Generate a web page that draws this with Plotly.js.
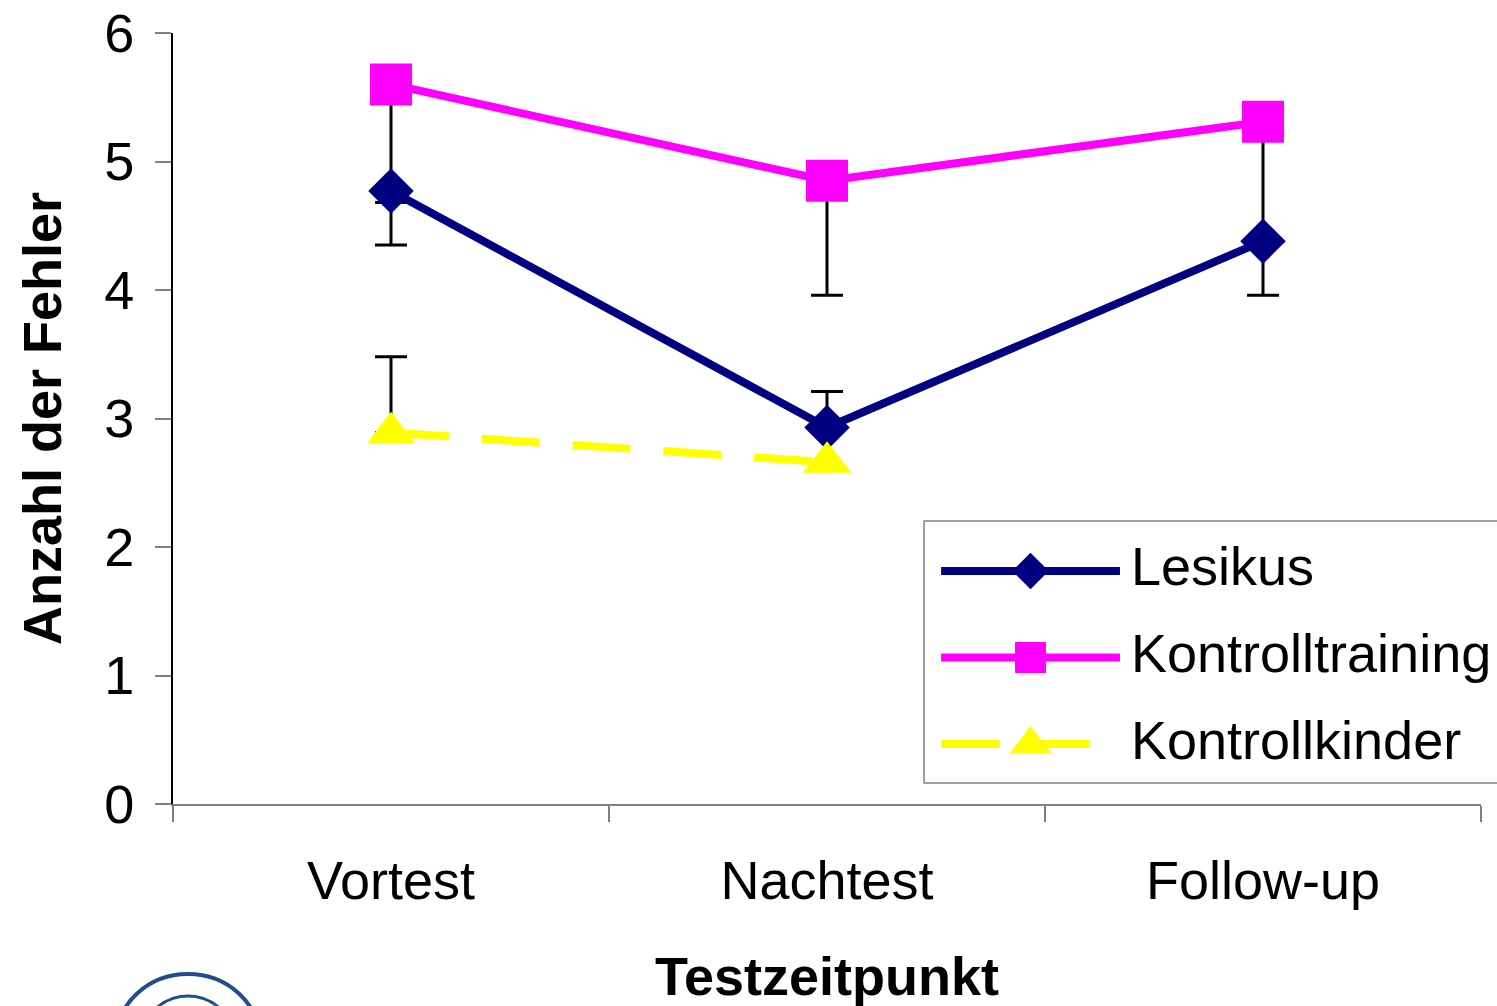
<!DOCTYPE html>
<html><head><meta charset="utf-8">
<script src="https://cdn.plot.ly/plotly-3.0.1.min.js"></script>
<style>html,body{margin:0;padding:0;background:#fff;} #chart{width:1497px;height:1006px;}</style>
</head><body><div id="chart"></div>
<script>
// ---- data ----
const categories = ['Vortest', 'Nachtest', 'Follow-up'];
const seriesNames = ['Lesikus', 'Kontrolltraining', 'Kontrollkinder'];
const lesikus = [4.77, 2.93, 4.38];
const lesikusErrPlus = [0, 0.28, 0];
const lesikusErrMinus = [0.42, 0, 0.42];
const kontrolltraining = [5.60, 4.85, 5.31];
const kontrolltrainingErrPlus = [0, 0, 0];
const kontrolltrainingErrMinus = [0.92, 0.89, 0.90];
const kontrollkinderCats = ['Vortest', 'Nachtest'];
const kontrollkinder = [2.89, 2.66];
const kontrollkinderErrPlus = [0.59, NaN];
const kontrollkinderErrMinus = [0, NaN];
const yTicks = [0, 1, 2, 3, 4, 5, 6];
const xTitle = 'Testzeitpunkt';
const yTitle = 'Anzahl der Fehler';

// ---- styles ----
const FONT = 'Liberation Sans, Arial, sans-serif';
const colors = {Lesikus: '#000080', Kontrolltraining: '#FF00FF', Kontrollkinder: '#FFFF00'};
const symbols = {Lesikus: 'diamond', Kontrolltraining: 'square', Kontrollkinder: 'triangle-up'};
const sizes = {Lesikus: 35, Kontrolltraining: 42, Kontrollkinder: 42};
const legendSizes = {Lesikus: 28, Kontrolltraining: 31, Kontrollkinder: 36};
const dashes = {Lesikus: 'solid', Kontrolltraining: 'solid', Kontrollkinder: '58px,33px'};

function err(plus, minus) {
  return {type: 'data', symmetric: false, array: plus, arrayminus: minus,
          color: '#000000', thickness: 3, width: 16, visible: true};
}

const seriesData = {
  Lesikus: {x: categories, y: lesikus, e: err(lesikusErrPlus, lesikusErrMinus)},
  Kontrolltraining: {x: categories, y: kontrolltraining, e: err(kontrolltrainingErrPlus, kontrolltrainingErrMinus)},
  Kontrollkinder: {x: kontrollkinderCats, y: kontrollkinder, e: err(kontrollkinderErrPlus, kontrollkinderErrMinus)}
};

// drawing order: Kontrolltraining, Lesikus, Kontrollkinder
const drawOrder = ['Kontrolltraining', 'Lesikus', 'Kontrollkinder'];
const traces = drawOrder.map(name => ({
  type: 'scatter', mode: 'lines+markers', name: name,
  x: seriesData[name].x, y: seriesData[name].y,
  xaxis: 'x', yaxis: 'y',
  line: {color: colors[name], width: 8, dash: dashes[name]},
  marker: {symbol: symbols[name], size: sizes[name], color: colors[name], opacity: 1, line: {width: 0}},
  error_y: seriesData[name].e,
  showlegend: false, cliponaxis: false
}));

// custom legend samples (drawn on a helper subplot)
const legendTextY = [0.3087, 0.1958, 0.0830];
const annotations = [];
seriesNames.forEach((name, i) => {
  const row = seriesNames.length - 1 - i;
  traces.push({
    type: 'scatter', mode: 'lines', x: [0, 1], y: [row, row],
    xaxis: 'x2', yaxis: 'y2', showlegend: false, cliponaxis: false, hoverinfo: 'skip',
    line: {color: colors[name], width: 8, dash: dashes[name]}
  });
  traces.push({
    type: 'scatter', mode: 'markers', x: [0.5], y: [row],
    xaxis: 'x2', yaxis: 'y2', showlegend: false, cliponaxis: false, hoverinfo: 'skip',
    marker: {symbol: symbols[name], size: legendSizes[name], color: colors[name], opacity: 1, line: {width: 0}}
  });
  annotations.push({
    xref: 'paper', yref: 'paper', x: 0.7310, y: legendTextY[i], xanchor: 'left', yanchor: 'middle',
    text: name, showarrow: false,
    font: {family: FONT, size: 54, color: '#000'}
  });
});

const layout = {
  width: 1497, height: 1006,
  margin: {l: 173, r: 16, t: 33, b: 202},
  paper_bgcolor: '#fff', plot_bgcolor: 'rgba(0,0,0,0)',
  showlegend: false,
  font: {family: FONT, color: '#000', size: 54},
  xaxis: {
    type: 'category', categoryorder: 'array', categoryarray: categories,
    range: [-0.5, 2.5], tickson: 'boundaries',
    ticks: 'outside', ticklen: 16, tickwidth: 2, tickcolor: '#808080',
    showline: true, linecolor: '#808080', linewidth: 2,
    showgrid: false, zeroline: false,
    tickfont: {family: FONT, size: 54, color: '#000'},
    ticklabelstandoff: 28,
    title: {text: xTitle, font: {family: FONT, size: 54, weight: 'bold', color: '#000'}, standoff: 58},
    fixedrange: true
  },
  yaxis: {
    range: [0, 6], tickvals: yTicks, ticktext: yTicks.map(String),
    ticks: 'outside', ticklen: 16, tickwidth: 2, tickcolor: '#808080',
    showline: true, linecolor: '#000000', linewidth: 2,
    showgrid: false, zeroline: false,
    tickfont: {family: FONT, size: 54, color: '#000'},
    ticklabelstandoff: 10,
    title: {text: yTitle, font: {family: FONT, size: 54, weight: 'bold', color: '#000'}, standoff: 25},
    fixedrange: true
  },
  xaxis2: {domain: [0.5872, 0.7240], range: [0, 1], anchor: 'y2', visible: false, fixedrange: true},
  yaxis2: {domain: [0.0217, 0.3583], range: [-0.5, 2.5], anchor: 'x2', visible: false, fixedrange: true},
  annotations: annotations,
  shapes: [
    {type: 'rect', xref: 'paper', yref: 'paper', x0: 0.5742, x1: 1.03, y0: 0.0272, y1: 0.3671,
     line: {color: '#808080', width: 1.5}, fillcolor: 'rgba(0,0,0,0)', layer: 'above'},
    {type: 'circle', xref: 'paper', yref: 'paper', x0: -0.0436, x1: 0.0665, y0: -0.3930, y1: -0.2206,
     line: {color: '#1F4E8C', width: 4}},
    {type: 'circle', xref: 'paper', yref: 'paper', x0: -0.0230, x1: 0.0459, y0: -0.3580, y1: -0.2490,
     line: {color: '#1F4E8C', width: 3}}
  ]
};

Plotly.newPlot('chart', traces, layout, {staticPlot: true, displayModeBar: false});
</script>
</body></html>
